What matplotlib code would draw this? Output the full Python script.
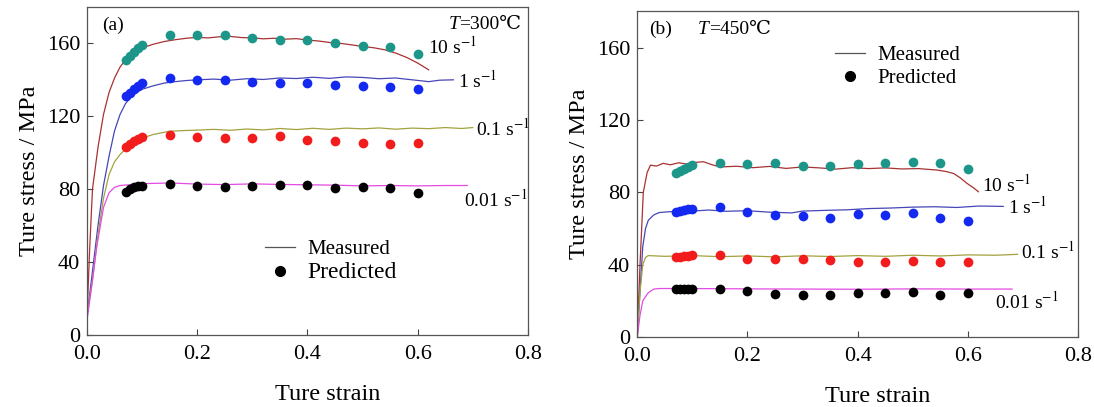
import matplotlib
matplotlib.use('Agg')
import matplotlib.pyplot as plt
from matplotlib.lines import Line2D

plt.rcParams['font.family'] = ['Liberation Serif', 'DejaVu Serif']
plt.rcParams['mathtext.fontset'] = 'stix'

# predicted strain points (same for every curve)
eps_pred = [0.07, 0.0775, 0.085, 0.0925, 0.1, 0.15, 0.2, 0.25, 0.3, 0.35, 0.4, 0.45, 0.5, 0.55, 0.6]

# ---- panel (a), T = 300 C ----
a_pred_10 = [151, 153, 155.5, 157.5, 159, 164.4, 164.4, 164.4, 163, 162, 162, 160, 158.5, 158, 154.3]
a_pred_1 = [131, 133, 135, 136.5, 138, 141, 139.7, 140, 139, 138.4, 138, 137.4, 136.6, 136, 135.2]
a_pred_01 = [103, 105, 106.5, 107.5, 108.6, 109.6, 108.6, 108, 108, 109, 106.8, 106.5, 105.6, 105, 105.3]
a_pred_001 = [78.6, 80, 81, 81.5, 82, 82.7, 81.8, 81.3, 81.8, 82.2, 82.2, 80.4, 81.3, 80.4, 78]

a_eps_10 = [0, 0.005, 0.01, 0.02, 0.03, 0.04, 0.05, 0.06, 0.07, 0.08, 0.1, 0.12, 0.14, 0.16, 0.18,
            0.2, 0.22, 0.24, 0.26, 0.28, 0.3, 0.32, 0.34, 0.36, 0.38, 0.4, 0.42, 0.44, 0.46, 0.48,
            0.5, 0.52, 0.54, 0.56, 0.58, 0.6, 0.62]
a_meas_10 = [10, 48, 80, 103, 121, 133, 141, 147, 151, 154, 157.5, 159.5, 161, 162, 162.8,
             163.3, 163, 163.6, 163.8, 163.2, 163, 162.5, 162.8, 162.3, 162.6, 161.8, 161.3, 160.5, 160, 159.2,
             158.3, 157.6, 156.5, 154.7, 152.3, 149.2, 145.5]

a_eps_1 = [0, 0.01, 0.02, 0.03, 0.04, 0.05, 0.06, 0.07, 0.08, 0.09, 0.1, 0.12, 0.14, 0.16, 0.18,
           0.2, 0.23, 0.26, 0.29, 0.32, 0.35, 0.38, 0.41, 0.44, 0.47, 0.5, 0.53, 0.56, 0.59,
           0.62, 0.64, 0.665]
a_meas_1 = [10, 35, 60, 82, 98, 112, 121, 127, 130.5, 133, 134.8, 136.7, 138.2, 139, 139.6,
            140, 140.4, 139.8, 140.6, 140.2, 141, 140.7, 141.4, 140.8, 141.6, 141.3, 140.6, 141, 140,
            139, 139.8, 140]

a_eps_01 = [0, 0.01, 0.02, 0.03, 0.04, 0.05, 0.06, 0.07, 0.08, 0.1, 0.12, 0.15, 0.18, 0.2,
            0.23, 0.26, 0.29, 0.32, 0.35, 0.38, 0.41, 0.44, 0.47, 0.5, 0.53, 0.56, 0.59, 0.62,
            0.65, 0.68, 0.7]
a_meas_01 = [10, 30, 55, 75, 88, 95, 99, 102, 104.5, 108, 110, 111.8, 112.2, 112.4,
             112.8, 112.3, 113, 112.5, 113.3, 112.7, 113.4, 112.8, 113.5, 113.1, 113.6, 112.9, 113.5, 113.2,
             113.8, 113.3, 113.8]

a_eps_001 = [0, 0.01, 0.0175, 0.03, 0.04, 0.05, 0.06, 0.08, 0.1, 0.15, 0.2, 0.25, 0.3, 0.35,
             0.4, 0.45, 0.5, 0.55, 0.6, 0.65, 0.69]
a_meas_001 = [8, 30, 48, 70, 78, 81, 82, 82.5, 83, 83.4, 82.8, 82.5, 82.9, 82.6,
              82.4, 82.2, 81.8, 82, 81.8, 82, 82]

# ---- panel (b), T = 450 C ----
b_pred_10 = [90.7, 91.8, 93, 94, 95, 96, 95.4, 96, 94.7, 94.7, 95.4, 96, 96.5, 96, 92.6]
b_pred_1 = [69, 69.5, 70, 70.5, 71, 71.6, 69.2, 67.4, 66.9, 65.6, 67.8, 67.4, 68.3, 65.6, 64.1]
b_pred_01 = [44, 44.5, 45, 45, 45.3, 45.3, 43.1, 43.1, 43.1, 42.5, 41.6, 41.6, 42.2, 41.6, 41.6]
b_pred_001 = [26.3, 26.3, 26.3, 26.3, 26.3, 26.8, 25.4, 23.8, 23.2, 23.2, 24.1, 24.1, 24.7, 23.2, 24.1]

b_eps_10 = [0, 0.005, 0.011, 0.018, 0.024, 0.035, 0.047, 0.06, 0.075, 0.09, 0.105, 0.12, 0.135, 0.15,
            0.18, 0.21, 0.24, 0.27, 0.3, 0.33, 0.36, 0.39, 0.42, 0.45, 0.48, 0.51, 0.544,
            0.56, 0.574, 0.586, 0.598, 0.61, 0.619]
b_meas_10 = [0, 40, 80, 91, 95, 94.5, 96, 95.2, 96.3, 95.6, 96.5, 96.9, 95.3, 94,
             94.4, 93.6, 94.3, 93.2, 94, 93.5, 92.8, 93.6, 93.1, 93.5, 92.9, 93.1, 92.3,
             91.5, 90.4, 88, 85, 82.5, 80.3]

b_eps_1 = [0, 0.005, 0.01, 0.015, 0.02, 0.03, 0.04, 0.06, 0.08, 0.1, 0.13, 0.16, 0.2, 0.24, 0.28,
           0.3, 0.34, 0.38, 0.42, 0.46, 0.5, 0.54, 0.58, 0.62, 0.664]
b_meas_1 = [0, 25, 50, 60, 64.5, 67.5, 68.8, 69.3, 69, 69.6, 70.2, 69.5, 69.8, 69, 68.6,
            69.6, 70, 70.3, 71, 71.3, 71.8, 72, 71.6, 72.4, 72.2]

b_eps_01 = [0, 0.005, 0.01, 0.015, 0.02, 0.05, 0.1, 0.15, 0.2, 0.25, 0.3, 0.35, 0.4, 0.45,
            0.5, 0.55, 0.6, 0.65, 0.69]
b_meas_01 = [0, 25, 40, 44, 45, 44.6, 45, 44.4, 44.8, 44.3, 44.9, 44.5, 45, 44.6,
             45.2, 44.8, 45.4, 45.2, 45.7]

b_eps_001 = [0, 0.005, 0.01, 0.02, 0.03, 0.04, 0.1, 0.2, 0.3, 0.4, 0.5, 0.6, 0.68]
b_meas_001 = [0, 12, 20, 24.5, 26.5, 26.8, 26.8, 26.6, 26.5, 26.4, 26.6, 26.5, 26.5]

line_colors = ['#a83232', '#4646b8', '#a3a23e', '#e34be3']
dot_colors = ['#1d968a', '#1328f0', '#f21c1c', '#000000']
rate_labels = ['10 s$^{-1}$', '1 s$^{-1}$', '0.1 s$^{-1}$', '0.01 s$^{-1}$']

panels = [
    dict(eps=[a_eps_10, a_eps_1, a_eps_01, a_eps_001],
         meas=[a_meas_10, a_meas_1, a_meas_01, a_meas_001],
         pred=[a_pred_10, a_pred_1, a_pred_01, a_pred_001],
         lab_xy=[(0.618, 158), (0.673, 139.5), (0.705, 113.5), (0.685, 74.5)],
         tag='(a)', temp='=300℃', legend_at=(0.37, 0.335), big_pred=True,
         rect=[0.0795, 0.177, 0.403, 0.806]),
    dict(eps=[b_eps_10, b_eps_1, b_eps_01, b_eps_001],
         meas=[b_meas_10, b_meas_1, b_meas_01, b_meas_001],
         pred=[b_pred_10, b_pred_1, b_pred_01, b_pred_001],
         lab_xy=[(0.625, 84), (0.673, 72), (0.697, 47), (0.65, 19.5)],
         tag='(b)', temp='=450℃', legend_at=(0.415, 0.94), big_pred=False,
         rect=[0.5825, 0.172, 0.403, 0.8]),
]

fig = plt.figure(figsize=(10.94, 4.07), dpi=100)

for p in panels:
    ax = fig.add_axes(p['rect'])
    for i in range(4):
        ax.plot(p['eps'][i], p['meas'][i], color=line_colors[i], lw=0.9)
        ax.plot(eps_pred, p['pred'][i], 'o', color=dot_colors[i], ms=7, mec='none')
        x, y = p['lab_xy'][i]
        ax.text(x, y, rate_labels[i], fontsize=14, ha='left', va='center')

    ax.set_xlim(0, 0.8)
    ax.set_ylim(0, 180)
    ax.set_xticks([0.0, 0.2, 0.4, 0.6, 0.8])
    ax.set_xticklabels(['0.0', '0.2', '0.4', '0.6', '0.8'])
    ax.set_yticks([0, 40, 80, 120, 160])
    ax.tick_params(direction='in', length=4, width=0.8, labelsize=16, color='#444444')
    ax.tick_params(axis='x', pad=7)
    ax.tick_params(axis='y', pad=5)
    for s in ax.spines.values():
        s.set_color('#555555')
        s.set_linewidth(0.9)
    ax.set_xlabel('Ture strain', fontsize=17.5)
    ax.xaxis.set_label_coords(0.545, -0.15)
    ax.set_ylabel('Ture stress / MPa', fontsize=17.5, labelpad=5)

    if p['tag'] == '(a)':
        ax.text(0.035, 0.945, p['tag'], transform=ax.transAxes, fontsize=14, va='center')
        t = ax.text(0.985, 0.945, p['temp'], transform=ax.transAxes, fontsize=14,
                    va='center', ha='right')
        ax.annotate('T', xy=(0, 0), xycoords=t, fontsize=14, style='italic', ha='right', va='bottom')
    else:
        ax.text(0.028, 0.945, p['tag'], transform=ax.transAxes, fontsize=14, va='center')
        t = ax.text(0.138, 0.945, 'T', transform=ax.transAxes, fontsize=14, va='center',
                    style='italic')
        ax.annotate(p['temp'], xy=(1, 0), xycoords=t, fontsize=14, ha='left', va='bottom')

    handles = [Line2D([], [], color='#555555', lw=0.9),
               Line2D([], [], marker='o', color='black', ls='none', ms=7)]
    leg = ax.legend(handles, ['Measured', 'Predicted'], loc='upper left', bbox_to_anchor=p['legend_at'],
                    frameon=False, fontsize=15, handlelength=1.45, handletextpad=0.6,
                    labelspacing=0.15, borderpad=0.2)
    if p['big_pred']:
        leg.get_texts()[1].set_fontsize(17)

plt.savefig('out.png', dpi=100)
